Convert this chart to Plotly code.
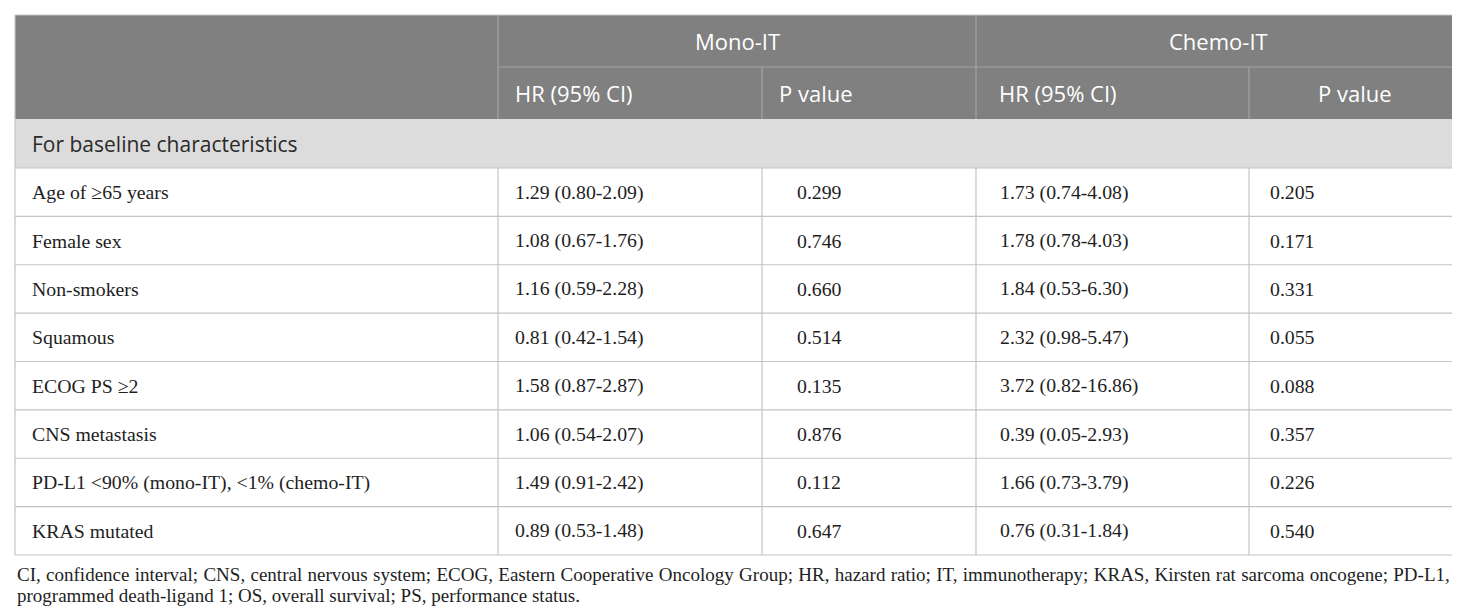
import plotly.graph_objects as go

# table content
GROUPS = ["Mono-IT", "Chemo-IT"]
SUBHEADS = ["HR (95% CI)", "P value", "HR (95% CI)", "P value"]
SECTION = "For baseline characteristics"
CHARACTERISTICS = [
    "Age of ≥65 years",
    "Female sex",
    "Non-smokers",
    "Squamous",
    "ECOG PS ≥2",
    "CNS metastasis",
    "PD-L1 <90% (mono-IT), <1% (chemo-IT)",
    "KRAS mutated",
]
MONO_HR = ["1.29 (0.80-2.09)", "1.08 (0.67-1.76)", "1.16 (0.59-2.28)", "0.81 (0.42-1.54)",
           "1.58 (0.87-2.87)", "1.06 (0.54-2.07)", "1.49 (0.91-2.42)", "0.89 (0.53-1.48)"]
MONO_P = ["0.299", "0.746", "0.660", "0.514", "0.135", "0.876", "0.112", "0.647"]
CHEMO_HR = ["1.73 (0.74-4.08)", "1.78 (0.78-4.03)", "1.84 (0.53-6.30)", "2.32 (0.98-5.47)",
            "3.72 (0.82-16.86)", "0.39 (0.05-2.93)", "1.66 (0.73-3.79)", "0.76 (0.31-1.84)"]
CHEMO_P = ["0.205", "0.171", "0.331", "0.055", "0.088", "0.357", "0.226", "0.540"]
FOOTNOTE = [
    "CI, confidence interval; CNS, central nervous system; ECOG, Eastern Cooperative Oncology Group; "
    "HR, hazard ratio; IT, immunotherapy; KRAS, Kirsten rat sarcoma oncogene; PD-L1,",
    "programmed death-ligand 1; OS, overall survival; PS, performance status.",
]

W, H = 1460, 609
COLS = [7, 490, 754, 968, 1241, 1452]      # column borders
TOP, H1, H2, SEC = 7, 59, 111, 160          # header / section borders
ROW_H = (547 - SEC) / len(CHARACTERISTICS)

HEAD_BG = "#808080"
SEC_BG = "#dcdcdc"
LINE = "#c4c4c4"
HEAD_LINE = "#a3a3a3"
INK = "#1e1e1e"
SANS = "Open Sans, sans-serif"
SERIF = "Liberation Serif, Times New Roman, serif"
BODY_SIZE = 19.8

fig = go.Figure()
shapes = []
ann = []


def rect(x0, y0, x1, y1, fill):
    shapes.append(dict(type="rect", x0=x0, x1=x1, y0=y0, y1=y1, fillcolor=fill,
                       line=dict(width=0), layer="below"))


def line(x0, y0, x1, y1, color=LINE):
    shapes.append(dict(type="line", x0=x0, x1=x1, y0=y0, y1=y1,
                       line=dict(color=color, width=1.2)))


def text(x, y, s, font, size, color=INK, anchor="left"):
    ann.append(dict(x=x, y=y, text=s, showarrow=False, xanchor=anchor, yanchor="middle",
                    font=dict(family=font, size=size, color=color)))


# fills
rect(COLS[0], TOP, COLS[-1], H2, HEAD_BG)
rect(COLS[0], H2, COLS[-1], SEC, SEC_BG)

# header lines
line(COLS[1], TOP, COLS[1], H2, HEAD_LINE)
line(COLS[3], TOP, COLS[3], H2, HEAD_LINE)
line(COLS[2], H1, COLS[2], H2, HEAD_LINE)
line(COLS[4], H1, COLS[4], H2, HEAD_LINE)
line(COLS[1], H1, COLS[-1], H1, HEAD_LINE)

# header text
text((COLS[1] + COLS[3]) / 2, (TOP + H1) / 2, GROUPS[0], SANS, 22, "white", "center")
text((COLS[3] + COLS[5]) / 2, (TOP + H1) / 2, GROUPS[1], SANS, 22, "white", "center")
yh = (H1 + H2) / 2
text(505, yh, SUBHEADS[0], SANS, 22, "white")
text(769, yh, SUBHEADS[1], SANS, 22, "white")
text(989, yh, SUBHEADS[2], SANS, 22, "white")
text((COLS[4] + COLS[5]) / 2, yh, SUBHEADS[3], SANS, 22, "white", "center")

# section row
text(22, (H2 + SEC) / 2, SECTION, SANS, 21, "#2a2a2a")

# body
bottom = SEC + ROW_H * len(CHARACTERISTICS)
for i, name in enumerate(CHARACTERISTICS):
    y0 = SEC + ROW_H * i
    yc = y0 + ROW_H / 2
    if i > 0:
        line(COLS[0], y0, COLS[-1], y0)
    text(22, yc, name, SERIF, BODY_SIZE)
    text(505, yc, MONO_HR[i], SERIF, BODY_SIZE)
    text(787, yc, MONO_P[i], SERIF, BODY_SIZE)
    text(990, yc, CHEMO_HR[i], SERIF, BODY_SIZE)
    text(1260, yc, CHEMO_P[i], SERIF, BODY_SIZE)
for x in COLS[1:-1]:
    line(x, SEC, x, bottom)

# outer border
line(COLS[0], TOP, COLS[-1], TOP)
line(COLS[0], SEC, COLS[-1], SEC)
line(COLS[0], bottom, COLS[-1], bottom)
line(COLS[0], TOP, COLS[0], bottom)
line(COLS[-1], TOP, COLS[-1], bottom)

# footnote (first line is justified in the original)
text(7, 566, f'<span style="word-spacing:0.6px">{FOOTNOTE[0]}</span>', SERIF, 19)
text(7, 587, FOOTNOTE[1], SERIF, 19)

fig.update_layout(
    width=W, height=H,
    margin=dict(l=0, r=0, t=0, b=0),
    paper_bgcolor="white", plot_bgcolor="white",
    xaxis=dict(range=[0, W], visible=False, fixedrange=True),
    yaxis=dict(range=[H, 0], visible=False, fixedrange=True),
    shapes=shapes, annotations=ann,
    showlegend=False,
)

fig.write_html("out.html")
